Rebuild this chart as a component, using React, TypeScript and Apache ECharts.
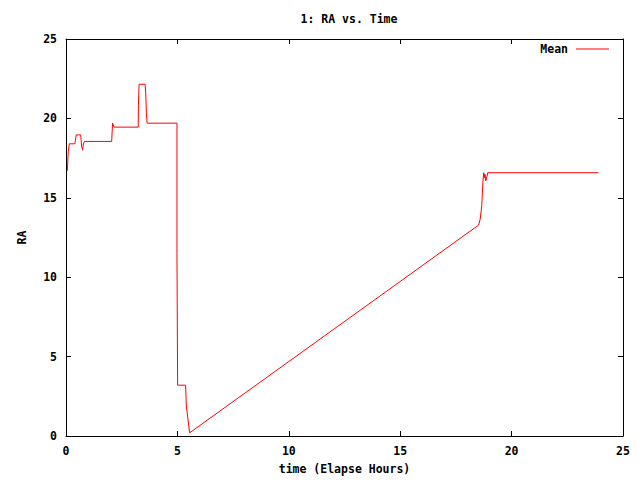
import React, { useEffect, useRef } from "react";
import * as echarts from "echarts";

const seriesName = "Mean";
const timeHours = [
  0.06, 0.1, 0.15, 0.4, 0.42, 0.46, 0.66, 0.7, 0.75, 0.78, 0.83, 2.05, 2.09, 2.16,
  3.24, 3.25, 3.28, 3.55, 3.58, 3.61, 3.64, 4.98, 4.98, 5.01, 5.01, 5.37, 5.4, 5.47,
  5.55, 18.31, 18.52, 18.59, 18.66, 18.71, 18.75, 18.78, 18.81, 18.84, 18.9, 18.93, 23.9,
];
const raValues = [
  16.7, 17.9, 18.4, 18.4, 18.6, 18.96, 18.96, 18.25, 18.0, 18.4, 18.55, 18.55, 19.7, 19.45,
  19.45, 20.8, 22.15, 22.15, 21.55, 20.3, 19.7, 19.7, 11.5, 11.5, 3.2, 3.2, 1.9, 1.1,
  0.2, 13.07, 13.28, 13.66, 14.5, 15.96, 16.58, 16.27, 16.48, 16.06, 16.37, 16.58, 16.58,
];
const xTicks = [0, 5, 10, 15, 20, 25];
const yTicks = [0, 5, 10, 15, 20, 25];

const FONT = "DejaVu Sans Mono";

export default function App() {
  const ref = useRef<HTMLDivElement>(null);
  useEffect(() => {
    if (!ref.current) return;
    const chart = echarts.init(ref.current, undefined, { renderer: "svg" });
    const txt = { fontFamily: FONT, fontWeight: "bold" as const, fontSize: 11.5, color: "#000" };
    const axisLine = { show: true, onZero: false, lineStyle: { color: "#000", width: 1 } };
    const axisTick = { show: true, inside: true, length: 5, lineStyle: { color: "#000", width: 1 } };
    const xMin = xTicks[0], xMax = xTicks[xTicks.length - 1];
    const yMin = yTicks[0], yMax = yTicks[yTicks.length - 1];
    chart.setOption({
      animation: false,
      backgroundColor: "#fff",
      title: {
        text: "1: RA vs. Time",
        left: 344,
        textAlign: "center",
        top: 8,
        textStyle: { ...txt },
      },
      legend: {
        data: [{ name: seriesName, icon: "rect" }],
        right: 26,
        top: 38,
        align: "right",
        itemWidth: 33,
        itemHeight: 1,
        textStyle: { ...txt, padding: [0, 3, 0, 0] },
        selectedMode: false,
      },
      grid: { left: 66, right: 17, top: 39, bottom: 40, containLabel: false },
      xAxis: [
        {
          type: "value",
          position: "bottom",
          min: xMin,
          max: xMax,
          interval: 5,
          axisLine,
          axisTick,
          splitLine: { show: false },
          axisLabel: { ...txt, margin: 9 },
          name: "time (Elapse Hours)",
          nameLocation: "middle",
          nameGap: 27,
          nameTextStyle: { ...txt },
        },
        {
          type: "value",
          position: "top",
          min: xMin,
          max: xMax,
          interval: 5,
          axisLine,
          axisTick,
          splitLine: { show: false },
          axisLabel: { show: false },
        },
      ],
      yAxis: [
        {
          type: "value",
          position: "left",
          min: yMin,
          max: yMax,
          interval: 5,
          axisLine,
          axisTick,
          splitLine: { show: false },
          axisLabel: { ...txt, margin: 9 },
          name: "RA",
          nameLocation: "middle",
          nameGap: 38,
          nameRotate: 90,
          nameTextStyle: { ...txt },
        },
        {
          type: "value",
          position: "right",
          min: yMin,
          max: yMax,
          interval: 5,
          axisLine,
          axisTick,
          splitLine: { show: false },
          axisLabel: { show: false },
        },
      ],
      series: [
        {
          name: seriesName,
          type: "line",
          xAxisIndex: 0,
          yAxisIndex: 0,
          data: timeHours.map((t, i) => [t, raValues[i]]),
          showSymbol: false,
          symbol: "none",
          lineStyle: { color: "#ff0000", width: 1 },
          itemStyle: { color: "#ff0000" },
        },
      ],
    });
    return () => chart.dispose();
  }, []);
  return (
    <div
      ref={ref}
      style={{ position: "fixed", left: 0, top: 0, width: 640, height: 480, background: "#fff" }}
    />
  );
}
